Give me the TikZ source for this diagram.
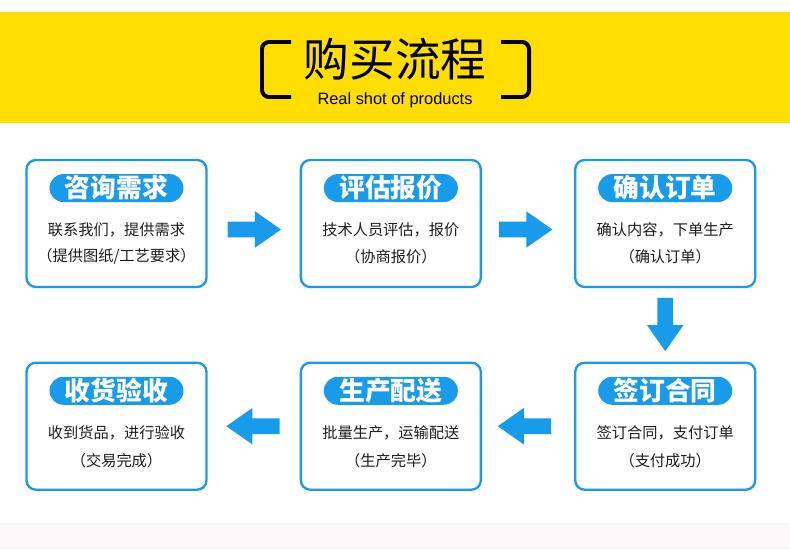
\documentclass[tikz,border=0pt]{standalone}
\usepackage{fontspec}
\setmainfont{Liberation Sans}
\newfontfamily\cjk{Noto Sans CJK SC}
\usepackage{xcolor}
\usetikzlibrary{shapes.arrows, positioning, calc}
\definecolor{bannerY}{RGB}{255,222,0}
\definecolor{flowBlue}{RGB}{25,155,235}
\definecolor{inkGray}{RGB}{30,30,30}
\definecolor{footGray}{RGB}{250,248,248}

\begin{document}
\begin{tikzpicture}[
  x=0.03cm, y=-0.03cm,
  node distance=2.2cm and 2.76cm,
  card/.style={rectangle, draw=flowBlue, line width=2pt, rounded corners=8pt, minimum width=5.4cm, minimum height=3.81cm, fill=white},
  pill/.style={rectangle, fill=flowBlue, rounded corners=0.42cm, minimum width=4.02cm, minimum height=0.84cm, inner sep=0pt, text=white, font=\cjk\bfseries\fontsize{22}{22}\selectfont},
  txt/.style={font=\cjk\fontsize{13}{13}\selectfont, text=inkGray, inner sep=0pt},
  flow/.style={single arrow, fill=flowBlue, draw=none, inner sep=0.23cm, minimum height=1.6cm, single arrow head extend=0.31cm, single arrow tip angle=70}
]
  \useasboundingbox (0,0) rectangle (790,549);
  % banner
  \fill[bannerY] (0,12) rectangle (790,123);
  \fill[footGray] (0,523) rectangle (790,549);
  \node[font=\cjk\fontsize{39}{39}\selectfont] (title) at (395,59) {购买流程};
  \node[font=\fontsize{14}{14}\selectfont] (sub) at (395,100) {Real shot of products};
  \draw[line width=3.4pt, rounded corners=6pt] (291,42) -- (262,42) -- (262,97) -- (291,97);
  \draw[line width=3.4pt, rounded corners=6pt] (501,42) -- (529,42) -- (529,97) -- (501,97);

  % cards
  \node[card] (ask) at (116.5,223.5) {};
  \node[card, right=of ask] (quote) {};
  \node[card, right=of quote] (confirm) {};
  \node[card, below=of confirm] (sign) {};
  \node[card, left=of sign] (ship) {};
  \node[card, left=of ship] (accept) {};

  \node[pill, below=0.45cm of ask.north] (askT) {咨询需求};
  \node[txt] (askA) at ($(ask.north)+(0,71)$) {联系我们，提供需求};
  \node[txt] (askB) at ($(ask.north)+(0,98)$) {（提供图纸/工艺要求）};

  \node[pill, below=0.45cm of quote.north] (quoteT) {评估报价};
  \node[txt] (quoteA) at ($(quote.north)+(0,71)$) {技术人员评估，报价};
  \node[txt] (quoteB) at ($(quote.north)+(0,98)$) {（协商报价）};

  \node[pill, below=0.45cm of confirm.north] (confirmT) {确认订单};
  \node[txt] (confirmA) at ($(confirm.north)+(0,71)$) {确认内容，下单生产};
  \node[txt] (confirmB) at ($(confirm.north)+(0,98)$) {（确认订单）};

  \node[pill, below=0.45cm of sign.north] (signT) {签订合同};
  \node[txt] (signA) at ($(sign.north)+(0,71)$) {签订合同，支付订单};
  \node[txt] (signB) at ($(sign.north)+(0,99)$) {（支付成功）};

  \node[pill, below=0.45cm of ship.north] (shipT) {生产配送};
  \node[txt] (shipA) at ($(ship.north)+(0,71)$) {批量生产，运输配送};
  \node[txt] (shipB) at ($(ship.north)+(0,99)$) {（生产完毕）};

  \node[pill, below=0.45cm of accept.north] (acceptT) {收货验收};
  \node[txt] (acceptA) at ($(accept.north)+(0,71)$) {收到货品，进行验收};
  \node[txt] (acceptB) at ($(accept.north)+(0,99)$) {（交易完成）};

  % arrows
  \node[flow] (go1) at ($(ask.east)!0.5!(quote.west)+(-5,6)$) {};
  \node[flow] (go2) at ($(quote.east)!0.5!(confirm.west)+(-8,6)$) {};
  \node[flow, rotate=-90] (go3) at ($(confirm.south)!0.5!(sign.north)+(0,-6)$) {};
  \node[flow, rotate=180] (go4) at ($(sign.west)!0.5!(ship.east)+(2,0)$) {};
  \node[flow, rotate=180] (go5) at ($(ship.west)!0.5!(accept.east)+(5,0)$) {};
\end{tikzpicture}
\end{document}
